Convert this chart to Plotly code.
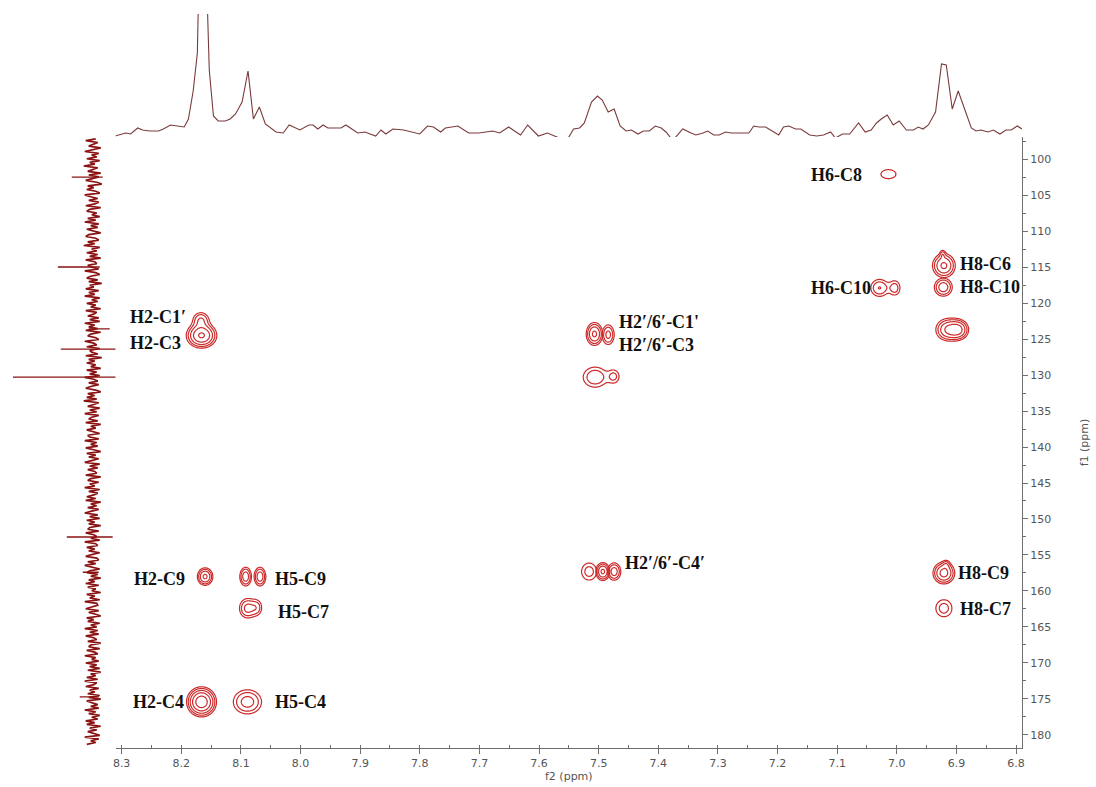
import numpy as np
import plotly.graph_objects as go

# ---------------- 1H projection (f2, top trace) ----------------
# None entries break the trace where the projection has gaps
proj_h_ppm = [
    8.311, 8.293, 8.285, 8.273, 8.265, 8.253, 8.238, 8.230, 8.218, 8.206,
    8.195, 8.188, 8.180, 8.173, 8.170, 8.158, 8.153, 8.146, 8.138, 8.126,
    8.118, 8.109, 8.098, 8.088, 8.079, 8.069, 8.059, 8.041, 8.029, 8.019,
    8.001, 7.986, 7.979, 7.971, 7.962, 7.954, 7.932, 7.924, 7.912, 7.904,
    7.892, 7.874, 7.865, 7.857, 7.845, 7.827, 7.800, 7.787, 7.777, 7.765,
    7.757, 7.736, 7.718, 7.701, 7.678, 7.666, 7.651, 7.631, 7.619, 7.601,
    7.586, 7.566, 7.559,
    7.551, 7.542, 7.532, 7.524, 7.512, 7.502, 7.494, 7.484, 7.474, 7.464,
    7.454, 7.445, 7.434, 7.425, 7.415, 7.405, 7.395, 7.387, 7.379, 7.376,
    7.372, 7.359, 7.345, 7.337, 7.325, 7.317, 7.307, 7.298, 7.287, 7.278,
    7.267, 7.248, 7.240, 7.231, 7.220, 7.198, 7.190, 7.181, 7.170, 7.161,
    7.146, 7.134, 7.123, 7.111, 7.103, 7.091, 7.079, 7.064, 7.053, 7.043,
    7.034, 7.026, 7.016, 7.006, 6.996, 6.984, 6.972, 6.964, 6.956, 6.947,
    6.935, 6.925, 6.917, 6.907, 6.897, 6.887, 6.875, 6.867, 6.859, 6.847,
    6.838, 6.827, 6.817, 6.808, 6.798, 6.790,
]
proj_h_int = [
    -1, 2, 1, 7, 5, 4, 4, 6, 10, 9,
    8, 16, 44, 82, 170, 165, 65, 19, 14, 14,
    16, 21, 33, 64, 16, 28, 11, 3, 2, 10,
    5, 10, 10, 6, 10, 7, 7, 10, 5, 2,
    3, -1, 5, 1, 6, 5, 1, 9, 8, 3,
    7, 9, 2, 2, 4, 2, 8, 0, 10, -1,
    2, -3, None,
    -3, 6, 7, 12, 33, 39, 35, 23, 26, 9,
    4, 5, 1, 4, 4, 9, 7, 3, -3, None,
    -3, 6, 2, 0, 2, 4, 0, 0, 3, 2,
    2, 2, 9, 8, 8, 0, 8, 9, 6, 6,
    0, -1, 0, 3, -3, 1, 1, 12, 3, 5,
    12, 16, 20, 10, 14, 5, 5, 8, 6, 10,
    23, 71, 70, 26, 44, 28, 7, 4, 5, 3,
    5, 1, 5, 5, 9, 6,
]

# ---------------- 13C projection (f1, left trace) ----------------
proj_c_start, proj_c_end = 97.2, 181.3
proj_c_noise = [
    3, -7, 5, 1, -4, 8, -2, -8, 6, -1, 4, -6, 7, -3, 2, -9, 5, 0, -5, 8, -4,
    6, -2, -7, 4, 9, -5, 1, -6, 3, 7, -8, -2, 5, -4, 6, 2, -7, 8, -3, -6, 4,
    -1, 7, -5, 3, -8, 6, -2, 5, -6, 1, 8, -4, -7, 3, 6, -5, 2, -9, 7, -1, 4,
    -6, 5, -3, 8, -7, 2, 4, -5, -1, 6, -8, 3, 7, -2, -6, 5, -4, 9, -3, 1, -7,
    6, -4, 2, -8, 7, -1, 5, -6, 3, -2, 8, -7, 4, 1, -5, 6, -3, 7, -8, 2, -4,
    5, -7, 8, -2, -5, 3, 6, -8, 1, 4, -6, 7, -3, -1, 5, -7, 9, -4, 2, -6, 3,
    -2, 8, -6, 4, -3, 7, -8, 1, 5, -4, 6, -2, -7, 3, 8, -5, 2, -6, 4, -9, 6,
    1, -5, 7, -3, 4, -8, 6, -1, -4, 5, -7, 8, -2, 3, -6, 2, 7, -5, -3, 6, -8,
    4, -2, 5, -7, 1, 8, -6, 3, -4, 6, -1, -8, 7, -3, 5, -5, 2, 4, -7, 8, -2,
    -5, 6, -3, 2, -8, 7, -4, 5, 1, -6, 3, -7, 8, -2, 4, -5, 6, -1, -8, 5, -3,
    7, -6, 2, -4, 8, -3, -5, 6, -7, 1, 4, -2, 7, -8, 3, 5, -6, 2, -4, 7, -1,
    -7, 4, 6, -5, 3, -8, 1, 7, -3, -6, 5, -2, 8, -4, 2, -7, 6, -5, 3, -1, 8,
    -6, 2, -3, 7, -8, 4, 5, -1, -7, 6, -4, 3, 8, -6, 1, -5, 7, -2, 4, -8, 5,
    -3, 6, -7, 1, 4, -5, 8, -2, -4, 7, -6, 2, 5, -8, 3, -1, 6, -7, 4, -3, 7,
    -5, 8, -2, 3, -6, 5, -8, 4, 1, -7, 6, -3, 2, -5, 7, -4, 8, -6, -1, 5, -2,
    6, -8, 3, -4, 7, -1, 5, -7, 2, -6, 8, -3, 4, -5, 1, 7, -8, 6, -2, 3, -6,
]
spike_c_ppm = [102.5, 115.0, 123.6, 126.4, 130.3, 152.5, 157.4, 174.7]
spike_c_left = [-21, -35, -4, -32, -80, -26, -10, -13]
spike_c_right = [10, 7, 17, 23, 23, 20, 6, 6]

# ---------------- HMBC cross peaks ----------------
# group: components of one correlation drawn as one contour set
peak_h = [8.166, 8.167, 8.160, 8.092, 8.068, 8.089, 8.073, 8.166, 8.089,
          7.507, 7.484, 7.506, 7.474, 7.516, 7.493, 7.474,
          7.014, 6.921, 6.923, 6.922, 7.029, 7.003, 6.915, 6.897,
          6.921, 6.917, 6.921]
peak_c = [124.5, 122.3, 158.0, 158.0, 158.0, 162.4, 162.3, 175.4, 175.4,
          124.3, 124.4, 130.3, 130.2, 157.3, 157.3, 157.3,
          102.1, 114.8, 113.2, 117.8, 117.9, 117.9, 123.7, 123.7,
          157.5, 156.3, 162.4]
peak_wh = [0.013, 0.009, 0.0075, 0.0062, 0.0062, 0.009, 0.0067, 0.012, 0.0155,
           0.0080, 0.0068, 0.0150, 0.0074, 0.0107, 0.0068, 0.0072,
           0.0173, 0.011, 0.003, 0.0095, 0.0105, 0.0070, 0.0117, 0.0100,
           0.0102, 0.004, 0.0114]
peak_wc = [0.90, 0.70, 0.70, 0.82, 0.82, 0.90, 0.80, 1.00, 1.10,
           0.92, 0.92, 1.05, 0.75, 1.00, 0.72, 0.78,
           0.86, 0.96, 0.40, 0.79, 0.85, 0.80, 0.90, 0.80,
           0.85, 0.40, 1.00]
peak_amp = [0.70, 0.25, 0.45, 0.35, 0.35, 0.30, 0.18, 0.90, 0.32,
            0.45, 0.30, 0.24, 0.17, 0.20, 0.45, 0.33,
            0.13, 0.45, 0.14, 0.35, 0.26, 0.20, 0.40, 0.45,
            0.50, 0.12, 0.20]
peak_group = [0, 0, 1, 2, 3, 4, 4, 5, 6,
              7, 8, 9, 9, 10, 11, 12,
              13, 14, 14, 15, 16, 16, 17, 17,
              18, 18, 19]

# geometric contour levels: 0.1 * 1.6**k
level_base, level_step = 0.1, 1.6

# ---------------- assignment labels ----------------
label_text = ["H2-C1′", "H2-C3", "H2-C9", "H5-C9", "H5-C7", "H2-C4", "H5-C4",
              "H2′/6′-C1'", "H2′/6′-C3", "H2′/6′-C4′",
              "H6-C8", "H6-C10", "H8-C6", "H8-C10", "H8-C9", "H8-C7"]
label_h = [8.290, 8.290, 8.282, 8.046, 8.041, 8.284, 8.046,
           7.469, 7.469, 7.459,
           7.148, 7.148, 6.897, 6.897, 6.901, 6.897]
label_c = [121.94, 125.56, 158.33, 158.33, 162.92, 175.42, 175.42,
           122.64, 125.83, 156.11,
           102.22, 117.92, 114.58, 117.78, 157.5, 162.5]

# ---------------- figure ----------------
RED = "#cc2a2a"
fig = go.Figure()

# contour sets, one local grid per correlation
ph = np.array(peak_h); pc = np.array(peak_c)
sh = np.array(peak_wh); sc = np.array(peak_wc)
pa = np.array(peak_amp); pg = np.array(peak_group)
for g in sorted(set(peak_group)):
    idx = np.where(pg == g)[0]
    h_lo = (ph[idx] - 4 * sh[idx]).min(); h_hi = (ph[idx] + 4 * sh[idx]).max()
    c_lo = (pc[idx] - 4 * sc[idx]).min(); c_hi = (pc[idx] + 4 * sc[idx]).max()
    gh = np.arange(h_lo, h_hi, 0.0008)
    gc = np.arange(c_lo, c_hi, 0.07)
    H, C = np.meshgrid(gh, gc)
    Z = np.zeros_like(H)
    for i in idx:
        Z += pa[i] * np.exp(-((H - ph[i]) ** 2 / (2 * sh[i] ** 2)
                              + (C - pc[i]) ** 2 / (2 * sc[i] ** 2)))
    logZ = np.log10(np.maximum(Z, 1e-4)).astype(np.float32)
    fig.add_trace(go.Contour(
        x=gh.astype(np.float32), y=gc.astype(np.float32), z=logZ,
        contours=dict(coloring="none", start=np.log10(level_base),
                      end=0.0, size=np.log10(level_step)),
        line=dict(color=RED, width=1.2, smoothing=1.0),
        showscale=False, hoverinfo="skip",
        xaxis="x", yaxis="y",
    ))

# top 1H projection
fig.add_trace(go.Scatter(
    x=proj_h_ppm, y=proj_h_int, mode="lines",
    line=dict(color="#7a3a3a", width=1.1),
    connectgaps=False, hoverinfo="skip",
    xaxis="x", yaxis="y2",
))

# left 13C projection: noise band
c_pos = np.linspace(proj_c_start, proj_c_end, len(proj_c_noise))
fig.add_trace(go.Scatter(
    x=proj_c_noise, y=c_pos, mode="lines",
    line=dict(color="#8b1212", width=1.7),
    hoverinfo="skip", xaxis="x2", yaxis="y",
))
# left 13C projection: sharp lines
sx, sy = [], []
for p, lo, hi in zip(spike_c_ppm, spike_c_left, spike_c_right):
    sx += [lo, hi, None]
    sy += [p, p, None]
fig.add_trace(go.Scatter(
    x=sx, y=sy, mode="lines",
    line=dict(color="#8b1212", width=1.3),
    hoverinfo="skip", xaxis="x2", yaxis="y",
))

for t, h, c in zip(label_text, label_h, label_c):
    fig.add_annotation(
        x=h, y=c, xref="x", yref="y", text=t, showarrow=False,
        xanchor="left", yanchor="middle",
        font=dict(family="Liberation Serif", size=18, color="#111111",
                  weight="bold"),
    )

AX = "#6e6e6e"
TICKFONT = dict(family="DejaVu Sans", size=11, color="#555555")
W, Hh = 1022, 748
fig.update_layout(
    width=1096, height=787,
    margin=dict(l=0, r=74, t=0, b=39),
    paper_bgcolor="white", plot_bgcolor="white",
    showlegend=False,
    xaxis=dict(
        domain=[113 / W, 1], range=[8.31, 6.79], anchor="y",
        showgrid=False, zeroline=False,
        showline=True, linecolor=AX, linewidth=1,
        ticks="outside", ticklen=5, tickcolor=AX,
        tick0=8.3, dtick=0.1, tickformat=".1f", tickfont=TICKFONT,
        minor=dict(dtick=0.05, ticks="inside", ticklen=3, tickcolor=AX,
                   showgrid=False),
        title=dict(text="f2 (ppm)", font=TICKFONT, standoff=0),
    ),
    yaxis=dict(
        domain=[0, (Hh - 137) / Hh], range=[181.81, 96.94], anchor="x",
        side="right", showgrid=False, zeroline=False,
        showline=True, linecolor=AX, linewidth=1,
        ticks="outside", ticklen=5, tickcolor=AX,
        tick0=100, dtick=5, tickfont=TICKFONT,
        minor=dict(dtick=2.5, ticks="outside", ticklen=3, tickcolor=AX,
                   showgrid=False),
        title=dict(text="f1 (ppm)", font=TICKFONT, standoff=30),
    ),
    yaxis2=dict(
        domain=[(Hh - 137) / Hh, (Hh - 14) / Hh], range=[-2, 121],
        anchor="x", visible=False,
    ),
    xaxis2=dict(
        domain=[0, 113 / W], range=[-90, 23], anchor="y", visible=False,
    ),
)

fig.write_html("out.html")
